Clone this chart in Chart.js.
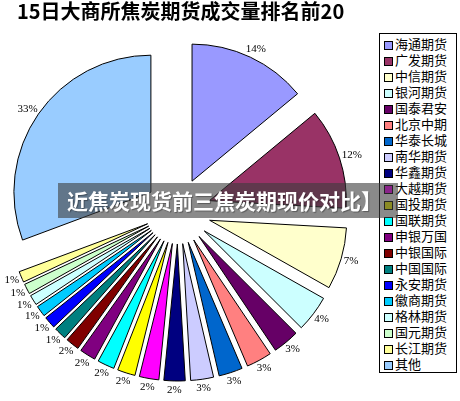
<!DOCTYPE html>
<html>
<head>
<meta charset="utf-8">
<script src="https://cdn.jsdelivr.net/npm/chart.js@4/dist/chart.umd.min.js"></script>
<style>
html,body{margin:0;padding:0;background:#fff;}
#wrap{position:relative;width:460px;height:401px;overflow:hidden;background:#fff;}
#c{position:absolute;left:0;top:0;}
#title{position:absolute;left:17px;top:-1px;font:bold 20px "Noto Sans CJK SC";line-height:24px;white-space:nowrap;color:#000;}
#legend{position:absolute;left:379px;top:33px;width:76px;height:338px;border:1px solid #000;background:#fff;}
.item{position:absolute;left:0;height:16px;width:76px;}
.sw{position:absolute;left:4px;top:3px;width:7px;height:7px;border:1px solid #000;}
.tx{position:absolute;left:15px;top:-2px;font:13px "Noto Sans CJK SC";line-height:16px;white-space:nowrap;color:#000;}
#banner{position:absolute;left:58px;top:183px;width:340px;height:35px;background:rgba(60,60,60,0.6);z-index:5;}
#banner span{position:absolute;left:9px;top:4px;font:bold 21px "Noto Sans CJK SC";line-height:26px;color:#fff;white-space:nowrap;text-shadow:1px 1px 1px rgba(0,0,0,0.35);}
</style>
</head>
<body>
<div id="wrap">
  <canvas id="c" width="460" height="401"></canvas>
  <div id="title"></div>
  <div id="legend"></div>
  <div id="banner"><span id="bannerText"></span></div>
</div>
<script>
const chartTitle = "15日大商所焦炭期货成交量排名前20";
const bannerText = "近焦炭现货前三焦炭期现价对比】";
const categories = ["海通期货","广发期货","中信期货","银河期货","国泰君安","北京中期","华泰长城","南华期货","华鑫期货","大越期货","国投期货","国联期货","申银万国","中银国际","中国国际","永安期货","徽商期货","格林期货","国元期货","长江期货","其他"];
const shares = [14.0, 11.9, 7.3, 4.3, 3.1, 3.0, 2.8, 2.7, 2.5, 2.3, 2.1, 2.0, 1.9, 1.6, 1.45, 1.4, 1.3, 1.2, 1.2, 1.3, 30.7];
const pctLabels = ["14%","12%","7%","4%","3%","3%","3%","3%","2%","2%","2%","2%","2%","2%","1%","1%","1%","1%","1%","1%","33%"];
const colors = ["#9999FF","#993366","#FFFFCC","#CCFFFF","#660066","#FF8080","#0066CC","#CCCCFF","#000080","#FF00FF","#FFFF00","#00FFFF","#800080","#800000","#008080","#0000FF","#00CCFF","#CCFFFF","#CCFFCC","#FFFF99","#99CCFF"];

document.getElementById('title').textContent = chartTitle;
document.getElementById('bannerText').textContent = bannerText;
const leg = document.getElementById('legend');
categories.forEach((name, i) => {
  const it = document.createElement('div');
  it.className = 'item';
  it.style.top = (4 + i * 16) + 'px';
  const sw = document.createElement('div');
  sw.className = 'sw';
  sw.style.background = colors[i];
  const tx = document.createElement('div');
  tx.className = 'tx';
  tx.textContent = name;
  it.appendChild(sw); it.appendChild(tx);
  leg.appendChild(it);
});

const RADIUS = 137;
const EXPLODE = 33;

// explode every slice by moving its centre outward along its mid angle
const explode = {
  id: 'explode',
  beforeDatasetsDraw(chart) {
    const a = chart.chartArea;
    const cx = (a.left + a.right) / 2, cy = (a.top + a.bottom) / 2;
    chart.getDatasetMeta(0).data.forEach(arc => {
      const mid = (arc.startAngle + arc.endAngle) / 2;
      arc.x = cx + Math.cos(mid) * EXPLODE;
      arc.y = cy + Math.sin(mid) * EXPLODE;
    });
  }
};

const pctLabelPlugin = {
  id: 'pctLabels',
  afterDatasetsDraw(chart) {
    const ctx = chart.ctx;
    const meta = chart.getDatasetMeta(0);
    ctx.save();
    ctx.font = '11px "Liberation Serif"';
    ctx.fillStyle = '#000';
    ctx.textAlign = 'center';
    ctx.textBaseline = 'middle';
    meta.data.forEach((arc, i) => {
      const mid = (arc.startAngle + arc.endAngle) / 2;
      const ux = Math.cos(mid), uy = Math.sin(mid);
      const w = ctx.measureText(pctLabels[i]).width;
      const x = arc.x + ux * (RADIUS + 3) + ux * w / 2;
      const y = arc.y + uy * (RADIUS + 3) + uy * 6;
      ctx.fillText(pctLabels[i], x, y);
    });
    ctx.restore();
  }
};

new Chart(document.getElementById('c'), {
  type: 'pie',
  data: {
    labels: categories,
    datasets: [{
      data: shares,
      backgroundColor: colors,
      borderColor: '#000',
      borderWidth: 1,
      clip: false
    }]
  },
  options: {
    responsive: false,
    devicePixelRatio: 1,
    animation: false,
    radius: RADIUS,
    layout: { padding: { left: 24, right: 128, top: 57, bottom: 36 } },
    plugins: {
      legend: { display: false },
      title: { display: false },
      tooltip: { enabled: false }
    },
    events: []
  },
  plugins: [explode, pctLabelPlugin]
});
</script>
</body>
</html>
